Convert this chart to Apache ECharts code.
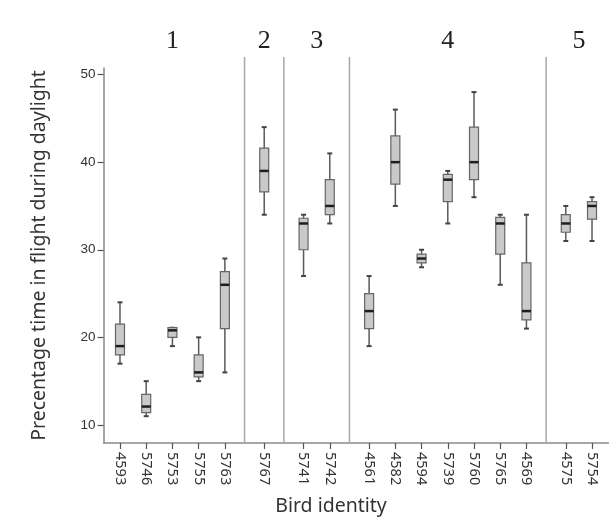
<!DOCTYPE html>
<html>
<head>
<meta charset="utf-8">
<script src="https://cdn.jsdelivr.net/npm/echarts@6/dist/echarts.min.js"></script>
<style>
html,body{margin:0;padding:0;background:#fff;}
#chart{width:614px;height:518px;}
</style>
</head>
<body>
<div id="chart"></div>
<script>
// ---- data ----
const birds   = ['4593','5746','5753','5755','5763','5767','5741','5742','4561','4582','4594','5739','5760','5765','4569','4575','5754'];
const groupOf = [1,1,1,1,1,2,3,3,4,4,4,4,4,4,4,5,5];
const groupLabels = ['1','2','3','4','5'];
const mins    = [17, 11,   19,   15,   16,   34,   27,   33, 19, 35,   28,   33,   36, 26,   21,   31,   31];
const q1s     = [18, 11.4, 20,   15.5, 21,   36.6, 30,   34, 21, 37.5, 28.5, 35.5, 38, 29.5, 22,   32,   33.5];
const medians = [19, 12.1, 20.8, 16,   26,   39,   33,   35, 23, 40,   29,   38,   40, 33,   23,   33,   35];
const q3s     = [21.5,13.5,21.1, 18,   27.5, 41.6, 33.6, 38, 25, 43,   29.5, 38.6, 44, 33.7, 28.5, 34,   35.5];
const maxs    = [24, 15,   21.1, 20,   29,   44,   34,   41, 27, 46,   30,   39,   48, 34,   34,   35,   36];
const yTicks  = [10, 20, 30, 40, 50];

// ---- category slots (layout) ----
const cats = [], sepSlots = [], birdSlot = [], groupFirst = {}, groupLast = {};
function blanks(n){ for (let k=0;k<n;k++) cats.push(''); }
blanks(2);
birds.forEach((b,i)=>{
  if (i>0) {
    if (groupOf[i] !== groupOf[i-1]) { blanks(2); sepSlots.push(cats.length); cats.push(''); blanks(2); }
    else blanks(3);
  }
  birdSlot.push(cats.length);
  const g = groupOf[i];
  if (groupFirst[g] === undefined) groupFirst[g] = cats.length;
  groupLast[g] = cats.length;
  cats.push(b);
});
blanks(2);
const topCats = cats.map(()=> '');
groupLabels.forEach((lab, gi)=>{
  const g = gi+1;
  topCats[Math.round((groupFirst[g]+groupLast[g])/2)] = lab;
});

const yMin = 7.94, yMax = 50.75, sepTop = 52.0;
const boxData = birds.map((b,i)=>[birdSlot[i], mins[i], q1s[i], medians[i], q3s[i], maxs[i]]);
const sepData = sepSlots.map(s => [s, yMin, sepTop]);

const chart = echarts.init(document.getElementById('chart'), null, {renderer:'canvas'});
const showNonEmpty = (idx, val) => val !== '';
chart.setOption({
  animation: false,
  backgroundColor: '#fff',
  grid: {left: 103.6, right: 5.6, top: 68, bottom: 75, containLabel: false, outerBoundsMode: 'none'},
  xAxis: [{
    type: 'category',
    data: cats,
    position: 'bottom',
    boundaryGap: true,
    axisLine: {show: true, lineStyle: {color: '#8a8a8a', width: 1.5}},
    axisTick: {show: true, alignWithLabel: true, interval: showNonEmpty, length: 6, lineStyle: {color: '#555', width: 1.2}},
    axisLabel: {interval: showNonEmpty, rotate: -90, margin: 9, fontSize: 14.5, color: '#333', fontFamily: 'Noto Sans', hideOverlap: false},
    splitLine: {show: false},
    name: 'Bird identity',
    nameLocation: 'middle',
    nameGap: 53,
    nameTextStyle: {fontSize: 19.5, color: '#333', fontFamily: 'Noto Sans', padding: [0, 50, 0, 0]}
  }, {
    type: 'category',
    data: topCats,
    position: 'top',
    boundaryGap: true,
    axisLine: {show: false},
    axisTick: {show: false},
    axisLabel: {interval: showNonEmpty, margin: 14, fontSize: 26, color: '#222', fontFamily: 'Liberation Serif', hideOverlap: false},
    splitLine: {show: false}
  }],
  yAxis: {
    type: 'value',
    min: yMin,
    max: yMax,
    axisLine: {show: true, lineStyle: {color: '#8a8a8a', width: 1.5}},
    axisTick: {show: true, customValues: yTicks, length: 6, lineStyle: {color: '#555', width: 1.2}},
    axisLabel: {customValues: yTicks, fontSize: 13.5, color: '#333', fontFamily: 'Liberation Sans', margin: 8},
    splitLine: {show: false},
    name: 'Precentage time in flight during daylight',
    nameLocation: 'middle',
    nameGap: 54,
    nameTextStyle: {fontSize: 19.5, color: '#333', fontFamily: 'Noto Sans'}
  },
  series: [{
    type: 'custom',
    xAxisIndex: 0,
    yAxisIndex: 0,
    data: sepData,
    encode: {x: 0, y: [1,2]},
    clip: false,
    silent: true,
    z: 1,
    renderItem: function (params, api) {
      const x = api.value(0);
      const p0 = api.coord([x, api.value(1)]);
      const p1 = api.coord([x, api.value(2)]);
      return {type: 'line', shape: {x1: p0[0], y1: p0[1], x2: p1[0], y2: p1[1]}, style: {stroke: '#a8a8a8', lineWidth: 1.5}};
    }
  }, {
    type: 'custom',
    xAxisIndex: 0,
    yAxisIndex: 0,
    data: boxData,
    encode: {x: 0, y: [1,2,3,4,5]},
    clip: false,
    z: 2,
    renderItem: function (params, api) {
      const x = api.value(0);
      const pMin = api.coord([x, api.value(1)]);
      const pQ1  = api.coord([x, api.value(2)]);
      const pMed = api.coord([x, api.value(3)]);
      const pQ3  = api.coord([x, api.value(4)]);
      const pMax = api.coord([x, api.value(5)]);
      const cx = pMed[0], hw = 4.5, cw = 2.5;
      return {
        type: 'group',
        children: [
          {type: 'line', shape: {x1: cx, y1: pMin[1], x2: cx, y2: pMax[1]}, style: {stroke: '#5a5a5a', lineWidth: 1.5}},
          {type: 'line', shape: {x1: cx-cw, y1: pMin[1], x2: cx+cw, y2: pMin[1]}, style: {stroke: '#444', lineWidth: 2}},
          {type: 'line', shape: {x1: cx-cw, y1: pMax[1], x2: cx+cw, y2: pMax[1]}, style: {stroke: '#444', lineWidth: 2}},
          {type: 'rect', shape: {x: cx-hw, y: pQ3[1], width: 2*hw, height: pQ1[1]-pQ3[1]}, style: {fill: '#c9c9c9', stroke: '#666', lineWidth: 1.2}},
          {type: 'line', shape: {x1: cx-hw, y1: pMed[1], x2: cx+hw, y2: pMed[1]}, style: {stroke: '#1e1e1e', lineWidth: 2.5}}
        ]
      };
    }
  }]
});
</script>
</body>
</html>
